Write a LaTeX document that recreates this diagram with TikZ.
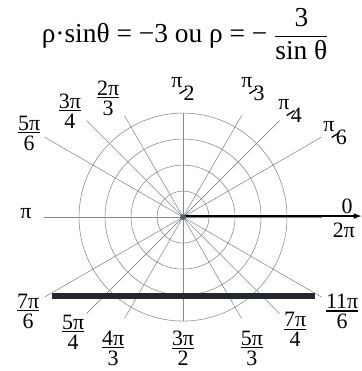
\documentclass[tikz,border=0pt]{standalone}
\usepackage{amsmath}
\usepackage{graphicx}
\usepackage{fontspec}
\setmainfont{Liberation Serif}
\usepackage{tikz}
\usetikzlibrary{arrows}

\definecolor{gridgray}{RGB}{128,138,148}
\definecolor{locusblack}{RGB}{34,40,44}

\newcommand{\stackfr}[2]{\vbox{\halign{\hfil##\hfil\cr#1\cr
    \noalign{\kern2.2pt\hrule height1.1pt\kern2.6pt}#2\cr}}}
\newcommand{\slantfr}[2]{\raisebox{.6em}{#1}\kern-.15em
    \raisebox{.3em}{\rotatebox{32}{\rule{.42em}{.06em}}}\kern-.18em#2}

\begin{document}
\begin{tikzpicture}[x=1cm,y=1cm,>=latex,font=\rmfamily\fontsize{24}{28}\selectfont]
    \tikzstyle{grid}=[draw=gridgray, line width=0.6pt]
    \tikzstyle{axis}=[->, line width=1.8pt]
    \tikzstyle{locus}=[draw=locusblack, line width=6.5pt]
    \tikzstyle{anglelabel}=[inner sep=0pt]

    % Frame
    \useasboundingbox (-7.04,-5.92) rectangle (6.88,8.35);

    % Equation
    \node[inner sep=0pt, font=\rmfamily\fontsize{30}{34}\selectfont] (equation) at (0.08,7.04)
        {ρ·sinθ = −3 ou ρ = − $\dfrac{\text{3}}{\text{sin θ}}$};

    % Polar grid
    \coordinate (O) at (0,0);
    \draw[grid] (O) circle (1);
    \draw[grid] (O) circle (2);
    \draw[grid] (O) circle (3);
    \draw[grid] (O) circle (4);

    \draw[grid] (O) -- (0:5.35);
    \draw[grid] (O) -- (30:6.15);
    \draw[grid] (O) -- (45:5.25);
    \draw[grid] (O) -- (60:4.5);
    \draw[grid] (O) -- (90:4);
    \draw[grid] (O) -- (120:4.5);
    \draw[grid] (O) -- (135:5.25);
    \draw[grid] (O) -- (150:6.15);
    \draw[grid] (O) -- (180:5.35);
    \draw[grid] (O) -- (210:6.15);
    \draw[grid] (O) -- (225:5.25);
    \draw[grid] (O) -- (240:4.5);
    \draw[grid] (O) -- (270:4);
    \draw[grid] (O) -- (300:4.5);
    \draw[grid] (O) -- (315:5.25);
    \draw[grid] (O) -- (330:6.15);

    % Polar axis
    \coordinate (axisstart) at (0,0.04);
    \coordinate (axisend) at (6.86,0.04);
    \draw[axis] (axisstart) -- (axisend);
    \fill[locusblack!75] (O) circle (0.11);

    % Line rho sin theta = -3
    \coordinate (lineleft) at (-5.04,-3.04);
    \coordinate (lineright) at (5.08,-3.04);
    \draw[locus] (lineleft) -- (lineright);

    % Angle labels
    \node[anglelabel] (zero) at (6.31,0.42) {0};
    \node[anglelabel] (twopi) at (6.19,-0.5) {2π};
    \node[anglelabel] (pisix) at (5.85,3.23) {\slantfr{π}{6}};
    \node[anglelabel] (pifour) at (4.12,4.08) {\slantfr{π}{4}};
    \node[anglelabel] (pithree) at (2.69,4.92) {\slantfr{π}{3}};
    \node[anglelabel] (pitwo) at (0,4.92) {\slantfr{π}{2}};
    \node[anglelabel] (twopithree) at (-2.88,4.58) {\stackfr{2π}{3}};
    \node[anglelabel] (threepifour) at (-4.35,4.08) {\stackfr{3π}{4}};
    \node[anglelabel] (fivepisix) at (-5.92,3.23) {\stackfr{5π}{6}};
    \node[anglelabel] (pi) at (-6.04,0.12) {π};
    \node[anglelabel] (sevenpisix) at (-5.96,-3.62) {\stackfr{7π}{6}};
    \node[anglelabel] (fivepifour) at (-4.23,-4.42) {\stackfr{5π}{4}};
    \node[anglelabel] (fourpithree) at (-2.69,-5.04) {\stackfr{4π}{3}};
    \node[anglelabel] (threepitwo) at (0,-5.04) {\stackfr{3π}{2}};
    \node[anglelabel] (fivepithree) at (2.65,-5.04) {\stackfr{5π}{3}};
    \node[anglelabel] (sevenpifour) at (4.31,-4.31) {\stackfr{7π}{4}};
    \node[anglelabel] (elevenpisix) at (6.12,-3.62) {\stackfr{11π}{6}};
\end{tikzpicture}
\end{document}
